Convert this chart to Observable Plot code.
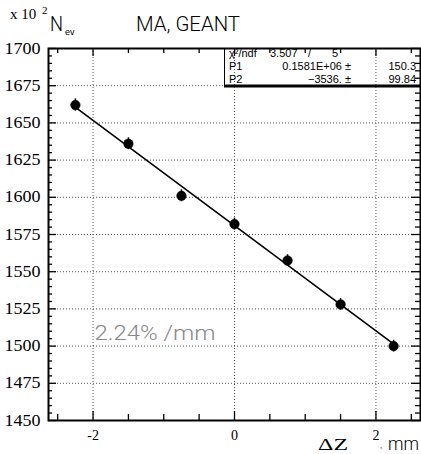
<!DOCTYPE html>
<html>
<head>
<meta charset="utf-8">
<script src="https://cdn.jsdelivr.net/npm/d3@7"></script>
<script src="https://cdn.jsdelivr.net/npm/@observablehq/plot@0.6"></script>
<style>
  html, body { margin: 0; padding: 0; background: #fff; }
  #chart { width: 421px; height: 454px; }
  svg { display: block; }
  .serif-lbl text { font-family: "Liberation Serif", "Times New Roman", serif !important; }
</style>
</head>
<body>
<div id="chart"></div>
<script>
// Measured event counts (units of 10^2) versus target shift ΔZ (mm)
const dz = [-2.25, -1.5, -0.75, 0, 0.75, 1.5, 2.25];
const nev = [1662, 1636, 1601, 1582, 1557.5, 1528, 1500];
const nevErr = [4.1, 4.0, 4.0, 4.0, 3.9, 3.9, 3.9];

// Linear fit result N = P1 + P2·ΔZ (in events)
const fitP1 = 158100, fitP1Err = 150.3;
const fitP2 = -3536, fitP2Err = 99.84;
const chi2 = 3.507, ndf = 5;
const fitRange = [-2.3, 2.3];
const unitScale = 100; // axis shows N in units of 10^2

// Axis ticks and labels
const yLabels = [1450, 1475, 1500, 1525, 1550, 1575, 1600, 1625, 1650, 1675, 1700];
const yGrid = [1475, 1500, 1525, 1550, 1575, 1600, 1625, 1650, 1675];
const yMinor = d3.range(1450, 1701, 5).filter(v => v % 25 !== 0);
const xLabels = [-2, 0, 2];
const xMinor = [-2.5, -1.5, -1, -0.5, 0.5, 1, 1.5, 2.5];

const points = dz.map((x, i) => ({x, y: nev[i], e: nevErr[i]}));
const fitLine = fitRange.map(x => ({x, y: (fitP1 + fitP2 * x) / unitScale}));
const slopeLabel = `${(-fitP2 / fitP1 * 100).toFixed(2)}% /mm`;

const W = 421, H = 454, mL = 48, mR = 1, mT = 48, mB = 34;
const fw = W - mL - mR, fh = H - mT - mB;
const grid = {stroke: "#555", strokeOpacity: 1, strokeWidth: 1, strokeDasharray: "1,2"};
const tk = {stroke: "#000", strokeWidth: 1.3};
const SERIF = "Liberation Serif";
const SANS = "Liberation Sans";

const plot = Plot.plot({
  width: W, height: H,
  marginLeft: mL, marginRight: mR, marginTop: mT, marginBottom: mB,
  x: {domain: [-2.63, 2.63], axis: null},
  y: {domain: [1450, 1700], axis: null},
  style: {background: "#fff", color: "#000"},
  marks: [
    Plot.gridY(yGrid, grid),
    Plot.gridX(xLabels, grid),
    // inward ticks on all four sides
    Plot.tickY(yMinor, {y: d => d, insetRight: fw - 4, ...tk}),
    Plot.tickY(yLabels, {y: d => d, insetRight: fw - 8, ...tk}),
    Plot.tickY(yMinor, {y: d => d, insetLeft: fw - 5, ...tk}),
    Plot.tickY(yLabels, {y: d => d, insetLeft: fw - 9, ...tk}),
    Plot.tickX(xMinor, {x: d => d, insetTop: fh - 6, ...tk}),
    Plot.tickX(xLabels, {x: d => d, insetTop: fh - 9, ...tk}),
    Plot.tickX(xMinor, {x: d => d, insetBottom: fh - 5, ...tk}),
    Plot.tickX(xLabels, {x: d => d, insetBottom: fh - 8, ...tk}),
    // tick labels
    Plot.text(yLabels, {y: d => d, text: d => String(d), frameAnchor: "left", textAnchor: "end", dx: -8,
      fontSize: 16, fontFamily: SERIF, fill: "#000", className: "serif-lbl"}),
    Plot.text(xLabels, {x: d => d, text: d => d < 0 ? "-" + Math.abs(d) : String(d), frameAnchor: "bottom",
      lineAnchor: "top", dy: 10, fontSize: 14, fontFamily: SERIF, fill: "#000", className: "serif-lbl"}),
    Plot.line(fitLine, {x: "x", y: "y", stroke: "#000", strokeWidth: 1.6}),
    Plot.ruleX(points, {x: "x", y1: d => d.y - d.e, y2: d => d.y + d.e, stroke: "#000", strokeWidth: 1.5}),
    Plot.dot(points, {x: "x", y: "y", r: 4.8, fill: "#000", stroke: "#000", strokeWidth: 0.5}),
    Plot.text([slopeLabel], {text: d => d, frameAnchor: "top-left", lineAnchor: "top", textAnchor: "start",
      dx: 46, dy: 277, fontSize: 21, fontFamily: "Roboto", fontWeight: 300, fill: "#888"}),
    Plot.frame({stroke: "#000", strokeWidth: 2})
  ]
});
document.getElementById("chart").appendChild(plot);

const svg = d3.select(plot);
// widen the four-digit y labels slightly
svg.selectAll(".serif-lbl text").filter(function() { return this.textContent.length === 4; })
  .attr("textLength", 36).attr("lengthAdjust", "spacingAndGlyphs");
// stretch the slope annotation to its drawn width
svg.selectAll("text").filter(function() { return this.textContent === slopeLabel; })
  .attr("textLength", 121).attr("lengthAdjust", "spacingAndGlyphs");

function txt(g, s, x, y, o = {}) {
  const f = o.family || SANS;
  return g.append("text").attr("x", x).attr("y", y).text(s)
    .attr("font-family", f).style("font-family", f)
    .style("font-size", (o.size || 11) + "px")
    .style("font-weight", o.weight || 400)
    .attr("text-anchor", o.anchor || "start")
    .attr("fill", o.fill || "#000");
}
const deco = svg.append("g");

// header: "x 10^2 N_ev    MA, GEANT"
txt(deco, "x 10", 10, 19, {family: SERIF, size: 15});
txt(deco, "2", 42, 14, {family: SERIF, size: 11});
txt(deco, "N", 50, 31, {family: "Roboto", size: 21, weight: 300}).attr("textLength", 13).attr("lengthAdjust", "spacingAndGlyphs");
txt(deco, "ev", 65, 35, {size: 9});
txt(deco, "MA, GEANT", 136, 31, {family: "Roboto", size: 21, weight: 300}).attr("textLength", 104).attr("lengthAdjust", "spacingAndGlyphs");

// fit statistics box
const bx = 224.5;
deco.append("line").attr("x1", bx).attr("x2", bx).attr("y1", mT).attr("y2", 86).attr("stroke", "#000").attr("stroke-width", 1);
deco.append("line").attr("x1", bx - 0.5).attr("x2", W).attr("y1", 86).attr("y2", 86).attr("stroke", "#000").attr("stroke-width", 3);
const fs = {size: 11};
txt(deco, "χ²/ndf", 229, 57, fs);
txt(deco, chi2.toFixed(3), 270, 57, fs);
txt(deco, "/", 308, 57, fs);
txt(deco, String(ndf), 332, 57, fs);
txt(deco, "P1", 229, 70, fs);
txt(deco, (fitP1 / 1e6).toFixed(4) + "E+06 ±", 351, 70, {...fs, anchor: "end"});
txt(deco, String(fitP1Err), 416, 70, {...fs, anchor: "end"});
txt(deco, "P2", 229, 83, fs);
txt(deco, "\u2212" + Math.abs(fitP2) + ". ±", 351, 83, {...fs, anchor: "end"});
txt(deco, String(fitP2Err), 416, 83, {...fs, anchor: "end"});

// x-axis title
txt(deco, "ΔZ", 318, 450, {family: SERIF, size: 16}).attr("textLength", 30).attr("lengthAdjust", "spacingAndGlyphs");
txt(deco, ",", 380, 448, {size: 8});
txt(deco, "mm", 388, 450, {family: "Roboto", size: 18, weight: 300}).attr("textLength", 31).attr("lengthAdjust", "spacingAndGlyphs");
</script>
</body>
</html>
